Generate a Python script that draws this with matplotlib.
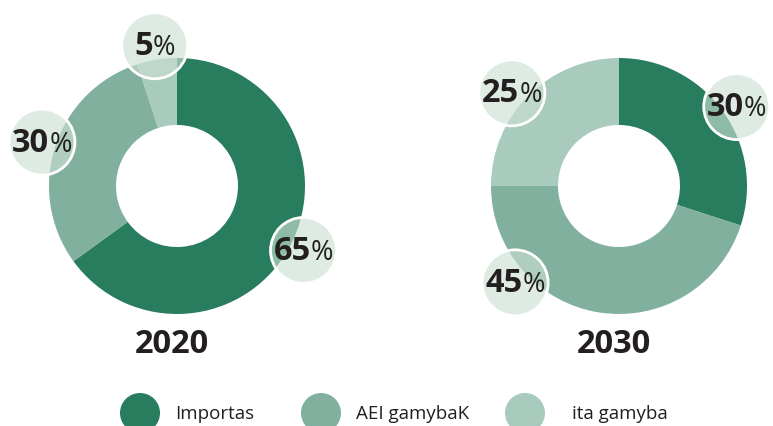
import matplotlib
matplotlib.use("Agg")
import matplotlib.pyplot as plt
from matplotlib.patches import Circle
import numpy as np

# ---- data ----
categories = ["Importas", "AEI gamybaK", "ita gamyba"]
years = ["2020", "2030"]
values_2020 = [65, 30, 5]
values_2030 = [30, 45, 25]

# ---- style ----
colors = ["#287d5f", "#82b09f", "#a8cbbd"]
W, H = 773, 427
FONT = "Open Sans"
plt.rcParams["font.family"] = [FONT, "DejaVu Sans"]

fig = plt.figure(figsize=(W / 100, H / 100), dpi=100)
ax = fig.add_axes([0, 0, 1, 1])

donuts = [
    dict(vals=values_2020, center=(177, H - 187), offsets=[0, 0, 0]),
    dict(vals=values_2030, center=(619, H - 187), offsets=[2, 38, -4]),
]
R_OUT, R_IN = 128, 61
R_LAB, LAB_R = 142, 33

renderer = fig.canvas.get_renderer()

def pct_label(x, y, num):
    t1 = ax.text(0, 0, str(num), fontsize=23.5, fontweight="bold", color="#231f20",
                 ha="left", va="center", zorder=6)
    t2 = ax.text(0, 0, "%", fontsize=19.5, color="#231f20",
                 ha="left", va="center", zorder=6)
    w1 = t1.get_window_extent(renderer).width
    w2 = t2.get_window_extent(renderer).width
    x0 = x - (w1 + w2) / 2
    t1.set_position((x0, y))
    t2.set_position((x0 + w1, y - 1.5))

for d, year in zip(donuts, years):
    cx, cy = d["center"]
    ax.pie(d["vals"], colors=colors, startangle=90, counterclock=False,
           radius=R_OUT, center=(cx, cy), frame=True,
           wedgeprops=dict(width=R_OUT - R_IN, linewidth=0))
    cum = np.cumsum([0] + d["vals"][:-1])
    total = sum(d["vals"])
    for v, c0, off in zip(d["vals"], cum, d["offsets"]):
        ang = (c0 + v / 2) / total * 360 + off  # clockwise from top
        a = np.deg2rad(ang)
        lx = cx + R_LAB * np.sin(a)
        ly = cy + R_LAB * np.cos(a)
        ax.add_patch(Circle((lx, ly), LAB_R, facecolor=(202/255, 224/255, 211/255),
                            alpha=0.63, edgecolor="none", zorder=4))
        ax.add_patch(Circle((lx, ly), LAB_R, facecolor="none",
                            edgecolor="white", linewidth=2, zorder=5))
        pct_label(lx, ly, v)
    ax.text(cx - 5, H - 345, year, fontsize=23.5, fontweight="bold", color="#231f20",
            ha="center", va="center")

ax.set_xlim(0, W)
ax.set_ylim(0, H)
ax.set_aspect("equal")
ax.axis("off")

# legend
leg_x = [140, 321, 525]
text_x = [175, 356, 572]
for lx, tx, col, cat in zip(leg_x, text_x, colors, categories):
    ax.add_patch(Circle((lx, H - 414), 20, facecolor=col, edgecolor="none"))
    ax.text(tx, H - 414, cat, fontsize=13.5, color="#231f20", ha="left", va="center")

fig.savefig("out.png", dpi=100)
